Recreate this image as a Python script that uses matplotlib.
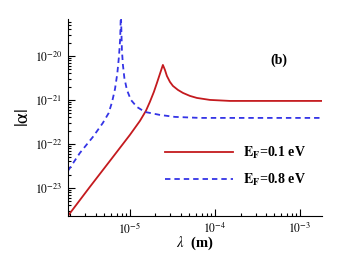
import numpy as np
import matplotlib
matplotlib.use("Agg")
import matplotlib.pyplot as plt
from matplotlib.ticker import LogLocator, FixedLocator, FuncFormatter, NullFormatter

plt.rcParams['font.family'] = ['Liberation Serif', 'DejaVu Serif']
plt.rcParams['mathtext.fontset'] = 'stix'

# log10 values
red_logx = [-5.729, -5.471, -5.235, -5.0, -4.882, -4.812, -4.765, -4.718, -4.682, -4.647, -4.612,
            -4.588, -4.565, -4.529, -4.494, -4.435, -4.376, -4.294, -4.212, -4.059, -3.824, -2.741]
red_logy = [-23.636, -22.977, -22.386, -21.795, -21.477, -21.25, -21.045, -20.818, -20.614, -20.409, -20.205,
            -20.318, -20.455, -20.591, -20.682, -20.773, -20.841, -20.909, -20.955, -21.0, -21.023, -21.023]

blue_logx = [-5.729, -5.588, -5.435, -5.318, -5.25, -5.21, -5.175, -5.148, -5.128, -5.114, -5.106,
             -5.094, -5.082, -5.065, -5.035, -4.988, -4.918, -4.824, -4.647, -4.471, -4.176, -2.741]
blue_logy = [-22.614, -22.205, -21.841, -21.523, -21.3, -21.05, -20.75, -20.4, -20.0, -19.6, -19.0,
             -19.864, -20.205, -20.5, -20.773, -21.0, -21.159, -21.273, -21.341, -21.386, -21.409, -21.409]

red_x = 10.0 ** np.array(red_logx)
red_y = 10.0 ** np.array(red_logy)
blue_x = 10.0 ** np.array(blue_logx)
blue_y = 10.0 ** np.array(blue_logy)

fig = plt.figure(figsize=(3.5, 2.63), dpi=100)
ax = fig.add_axes([0.194, 0.179, 0.726, 0.749])

ax.plot(red_x, red_y, color='#c41a1e', lw=1.3, label=r'$\mathbf{E_F}$=0.1 eV')
ax.plot(blue_x, blue_y, color='#3434e6', lw=1.3, ls=(0, (3, 2.2)), label=r'$\mathbf{E_F}$=0.8 eV')

ax.set_xscale('log')
ax.set_yscale('log')
ax.set_xlim(10 ** -5.729, 10 ** -2.741)
ax.set_ylim(10 ** -23.636, 10 ** -19.16)

ax.spines['top'].set_visible(False)
ax.spines['right'].set_visible(False)

ax.xaxis.set_major_locator(FixedLocator([1e-5, 1e-4, 1e-3]))
ax.xaxis.set_minor_locator(LogLocator(base=10, subs=np.arange(2, 10), numticks=20))
ax.yaxis.set_major_locator(FixedLocator([1e-23, 1e-22, 1e-21, 1e-20]))
ax.yaxis.set_minor_locator(LogLocator(base=10, subs=np.arange(2, 10), numticks=20))
ax.xaxis.set_minor_formatter(NullFormatter())
ax.yaxis.set_minor_formatter(NullFormatter())
fmt = FuncFormatter(lambda v, p: r'$10^{%d}$' % int(round(np.log10(v))))
ax.xaxis.set_major_formatter(fmt)
ax.yaxis.set_major_formatter(fmt)

ax.tick_params(which='both', direction='in', labelsize=8.5, width=0.8, colors='black')
ax.tick_params(which='major', length=5, pad=4)
ax.tick_params(which='minor', length=2.5)

ax.set_xlabel(r'$\lambda$  (m)', fontsize=10.5, fontweight='bold', labelpad=-1)
ax.set_ylabel(r'$|\mathrm{\alpha}|$', fontsize=14, labelpad=2)

ax.text(0.795, 0.79, '(b)', transform=ax.transAxes, fontsize=10, fontweight='bold', va='center')

leg = ax.legend(loc='lower left', bbox_to_anchor=(0.36, 0.115), frameon=False,
                prop={'weight': 'bold', 'size': 10}, handlelength=4.9,
                labelspacing=0.8, handletextpad=0.75, borderaxespad=0)

fig.savefig('out.png', dpi=100)
